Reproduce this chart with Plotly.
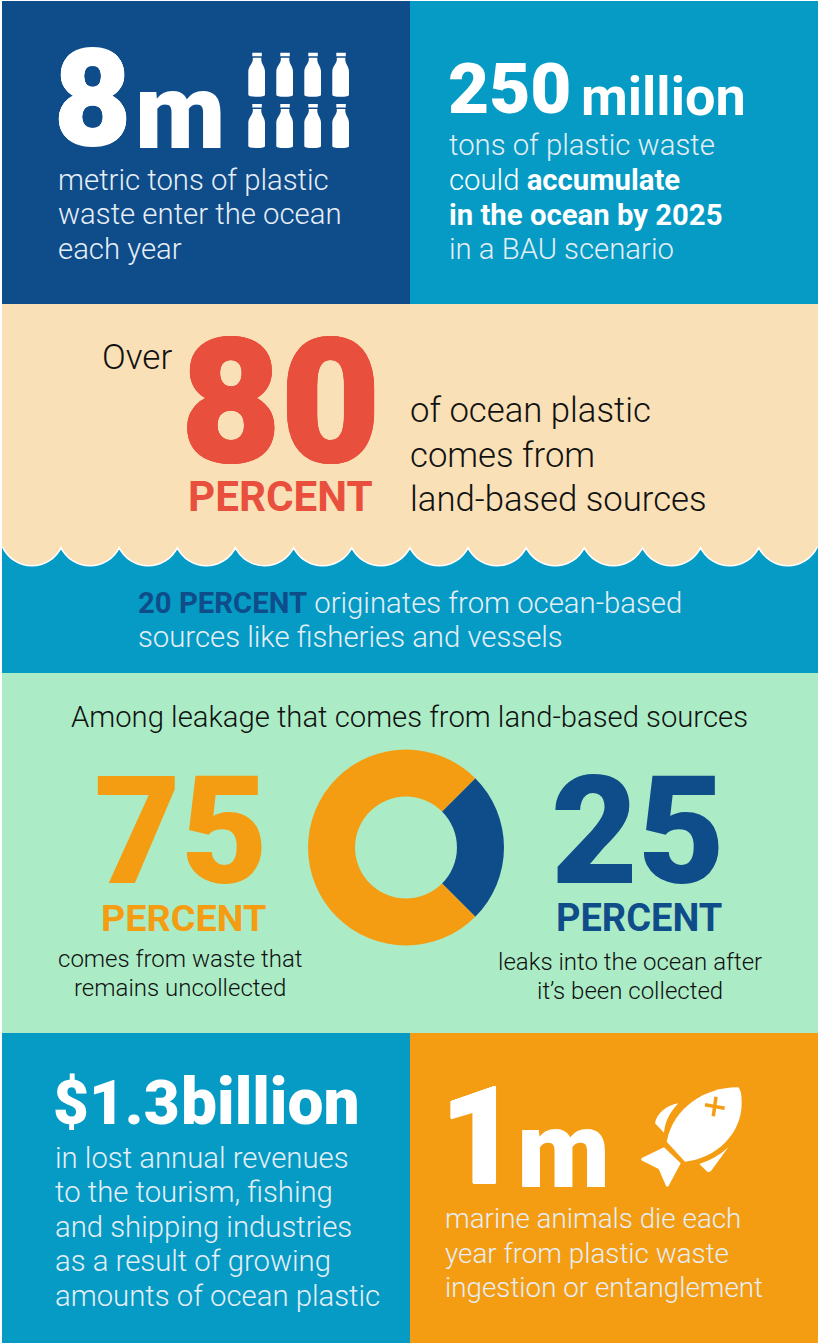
import plotly.graph_objects as go

W, H = 818, 1343
NAVY = "#0F4C8A"
SKY = "#059BC5"
CREAM = "#FAE0B7"
MINT = "#ABECC6"
ORANGE = "#F59D12"
RED = "#E94F3D"
WHITE = "#FFFFFF"
INK = "#111111"
PALE = "#E6EEF6"

DONUT_LABELS = ["Collected, then leaked", "Uncollected"]
DONUT_VALUES = [25, 75]

PANELS = [
    (2, 1, 410, 304, NAVY),
    (410, 1, 818, 304, SKY),
    (2, 304, 818, 541, CREAM),
    (2, 541, 818, 673, SKY),
    (2, 673, 818, 1033, MINT),
    (2, 1033, 410, 1343, SKY),
    (410, 1033, 818, 1343, ORANGE),
]

ROBOTO = "Roboto"
BODY = 29.3
SMALL = 24
ANIMAL = 27.8

# x, y centre, text, size, colour, weight, anchor, extra stroke in px
TEXTS = [
    (54, 99, "8", 133, WHITE, 900, "left", 0.7),
    (135, 112, "m", 105, WHITE, 900, "left", 0),
    (58, 180, "metric tons of plastic", BODY, PALE, 300, "left", 0),
    (58, 214, "waste enter the ocean", BODY, PALE, 300, "left", 0),
    (58, 249, "each year", BODY, PALE, 300, "left", 0),
    (448, 88, "250", 71, WHITE, 900, "left", 0),
    (581, 96, "million", 54, WHITE, 700, "left", 0),
    (449, 145, "tons of plastic waste", BODY, PALE, 300, "left", 0),
    (449, 180, "could <b>accumulate</b>", BODY, WHITE, 300, "left", 0),
    (449, 215, "<b>in the ocean by 2025</b>", BODY, WHITE, 300, "left", 0),
    (449, 249, "in a BAU scenario", BODY, PALE, 300, "left", 0),
    (102, 357, "Over", 35, INK, 300, "left", 0),
    (181, 402, "80", 172, RED, 900, "left", 1),
    (188, 496, "PERCENT", 42.2, RED, 700, "left", 0),
    (410, 410, "of ocean plastic", 34.7, INK, 300, "left", 0),
    (410, 455, "comes from", 34.7, INK, 300, "left", 0),
    (410, 499, "land-based sources", 34.7, INK, 300, "left", 0),
    (138, 603, f'<span style="color:{NAVY}"><b>20 PERCENT</b></span> originates from ocean-based', BODY, PALE, 300, "left", 0),
    (138, 637, "sources like fisheries and vessels", BODY, PALE, 300, "left", 0),
    (71, 717, "Among leakage that comes from land-based sources", 29.25, INK, 300, "left", 0),
    (94, 832, "75", 150, ORANGE, 900, "left", 0),
    (101, 918, "PERCENT", 37.8, ORANGE, 700, "left", 0),
    (180, 959, "comes from waste that", SMALL, INK, 300, "center", 0),
    (180, 988, "remains uncollected", SMALL, INK, 300, "center", 0),
    (551, 832, "25", 150, NAVY, 900, "left", 0),
    (556, 918, "PERCENT", 38, NAVY, 700, "left", 0),
    (630, 962, "leaks into the ocean after", SMALL, INK, 300, "center", 0),
    (630, 991, "it’s been collected", SMALL, INK, 300, "center", 0),
    (53, 1102, "$1.3", 62, WHITE, 900, "left", 0),
    (181, 1102, "billion", 64, WHITE, 900, "left", 0),
    (55, 1158, "in lost annual revenues", BODY, PALE, 300, "left", 0),
    (55, 1192, "to the tourism, fishing", BODY, PALE, 300, "left", 0),
    (55, 1227, "and shipping industries", BODY, PALE, 300, "left", 0),
    (55, 1261, "as a result of growing", BODY, PALE, 300, "left", 0),
    (55, 1296, "amounts of ocean plastic", BODY, PALE, 300, "left", 0),
    (440, 1136, "1", 136, WHITE, 900, "left", 0.5),
    (517, 1150, "m", 108, WHITE, 900, "left", 0),
    (445, 1218, "marine animals die each", ANIMAL, PALE, 300, "left", 0),
    (445, 1253, "year from plastic waste", ANIMAL, PALE, 300, "left", 0),
    (445, 1287, "ingestion or entanglement", ANIMAL, PALE, 300, "left", 0),
]

BOTTLE_COLUMNS = [248.3, 276.3, 304.3, 332.3]
BOTTLE_ROWS = [52.7, 104.0]

shapes = []


def add_path(path, fill):
    shapes.append(dict(type="path", path=path, fillcolor=fill,
                       line=dict(color=fill, width=0), layer="above"))


for x0, y0, x1, y1, colour in PANELS:
    shapes.append(dict(type="rect", x0=x0, y0=y0, x1=x1, y1=y1, fillcolor=colour,
                       line=dict(width=0), layer="below"))


def scallop_path(closed):
    step = 58.15
    cusp_y, low_y = 546.0, 565.0
    ctrl_y = cusp_y + (low_y - cusp_y) / 0.75
    x = 61.0 - step
    p = f"M {x:.1f},{cusp_y}"
    for _ in range(14):
        p += (f" C {x + step * 0.2:.1f},{ctrl_y:.1f} {x + step * 0.8:.1f},{ctrl_y:.1f}"
              f" {x + step:.1f},{cusp_y}")
        x += step
    if closed:
        p += f" L 818,{cusp_y} L 818,538 L 0,538 L 0,{cusp_y} Z"
    return p


# white rim first, then the sand lobes on top of it
shapes.append(dict(type="path", path=scallop_path(False), line=dict(color=WHITE, width=3),
                   fillcolor="rgba(0,0,0,0)", layer="below"))
shapes.append(dict(type="path", path=scallop_path(True), line=dict(width=0),
                   fillcolor=CREAM, layer="below"))
# trim what overshoots the panel's left edge
shapes.append(dict(type="rect", x0=0, y0=0, x1=2, y1=H, fillcolor=WHITE,
                   line=dict(width=0), layer="below"))


def bottle(x, y):
    cap = f"M {x+4},{y} H {x+13.5} V {y+3.6} H {x+4} Z"
    body = (f"M {x+4.5},{y+5} H {x+13} V {y+7.5} C {x+13.5},{y+12} {x+16.7},{y+14} {x+16.7},{y+19}"
            f" V {y+42} Q {x+16.7},{y+44} {x+8.3},{y+44} Q {x},{y+44} {x},{y+42}"
            f" V {y+19} C {x},{y+14} {x+3.5},{y+12} {x+4.5},{y+7.5} Z")
    return cap + " " + body


for by in BOTTLE_ROWS:
    for bx in BOTTLE_COLUMNS:
        add_path(bottle(bx, by), WHITE)


def fish_pt(zx, zy):
    return f"{610 + zx / 3:.1f},{1070 + zy / 3:.1f}"


def fish_path(spec):
    return " ".join(t if isinstance(t, str) else fish_pt(*t) for t in spec)


add_path(fish_path(["M", (385, 52), "C", (290, 50), (190, 110), (170, 215),
                    "L", (225, 275), "C", (320, 265), (395, 190), (395, 100),
                    "Q", (395, 60), (385, 52), "Z"]), WHITE)
add_path(fish_path(["M", (205, 100), "C", (170, 105), (140, 130), (135, 160),
                    "L", (162, 188), "C", (165, 150), (185, 120), (205, 100), "Z"]), WHITE)
add_path(fish_path(["M", (355, 232), "C", (330, 255), (300, 272), (268, 282),
                    "L", (292, 305), "Q", (298, 308), (303, 303), "Z"]), WHITE)
add_path(fish_path(["M", (162, 232), "L", (97, 263), "Q", (90, 268), (97, 272),
                    "L", (146, 297), "L", (168, 347), "Q", (172, 353), (176, 347),
                    "L", (212, 280), "Z"]), WHITE)
for a, b in [((285, 104), (344, 115)), ((318, 80), (310, 139))]:
    shapes.append(dict(type="path", path=f"M {fish_pt(*a)} L {fish_pt(*b)}",
                       line=dict(color=ORANGE, width=3.5), layer="above"))


def stroke(colour, px):
    # thickens the big numerals a little beyond the heaviest installed weight
    if not px:
        return "none"
    offsets = [(px, 0), (-px, 0), (0, px), (0, -px),
               (px * 0.7, px * 0.7), (-px * 0.7, px * 0.7),
               (px * 0.7, -px * 0.7), (-px * 0.7, -px * 0.7)]
    return ", ".join(f"{dx:.2f}px {dy:.2f}px 0 {colour}" for dx, dy in offsets)


annotations = [
    dict(x=x, y=y, text=s, xref="x", yref="y", xanchor=anchor, yanchor="middle",
         showarrow=False, align=anchor, borderpad=0, borderwidth=0,
         font=dict(family=ROBOTO, size=size, color=colour, weight=weight,
                   shadow=stroke(colour, px)))
    for x, y, s, size, colour, weight, anchor, px in TEXTS
]

donut_cx, donut_cy, donut_r = 406.0, 847.5, 98.0
fig = go.Figure(go.Pie(
    labels=DONUT_LABELS,
    values=DONUT_VALUES,
    hole=0.52,
    sort=False,
    direction="clockwise",
    rotation=45,
    marker=dict(colors=[NAVY, ORANGE], line=dict(width=0)),
    textinfo="none",
    showlegend=False,
    domain=dict(x=[(donut_cx - donut_r) / W, (donut_cx + donut_r) / W],
                y=[1 - (donut_cy + donut_r) / H, 1 - (donut_cy - donut_r) / H]),
))

fig.update_layout(
    width=W, height=H,
    margin=dict(l=0, r=0, t=0, b=0),
    paper_bgcolor=WHITE, plot_bgcolor=WHITE,
    showlegend=False,
    shapes=shapes,
    annotations=annotations,
    xaxis=dict(range=[0, W], visible=False, fixedrange=True, domain=[0, 1]),
    yaxis=dict(range=[H, 0], visible=False, fixedrange=True, domain=[0, 1]),
)
fig.write_html("out.html", config=dict(displayModeBar=False))
